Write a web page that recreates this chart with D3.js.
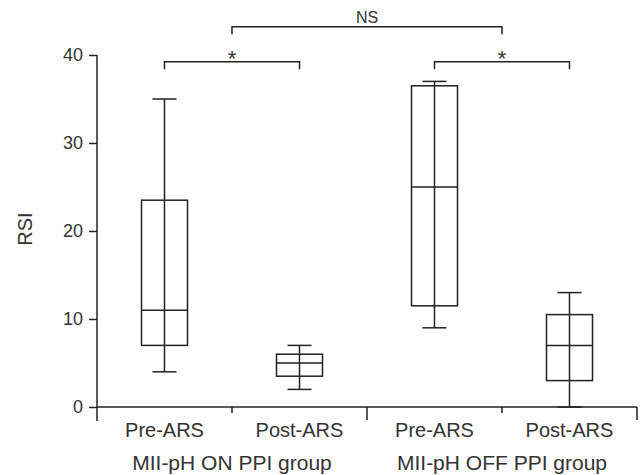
<!DOCTYPE html>
<html>
<head>
<meta charset="utf-8">
<script src="https://cdn.jsdelivr.net/npm/d3@7"></script>
<style>
  body { margin: 0; background: #fff; }
  text { font-family: "Liberation Sans", Arial, sans-serif; fill: #333; }
</style>
</head>
<body>
<div id="chart"></div>
<script>
// data
var categories = ["Pre-ARS", "Post-ARS", "Pre-ARS", "Post-ARS"];
var groups = ["MII-pH ON PPI group", "MII-pH OFF PPI group"];
var whiskerLow = [4, 2, 9, 0];
var q1 = [7, 3.5, 11.5, 3];
var median = [11, 5, 25, 7];
var q3 = [23.5, 6, 36.5, 10.5];
var whiskerHigh = [35, 7, 37, 13];
var yTicks = [0, 10, 20, 30, 40];
// comparisons: category index from/to, label
var starPairs = [[0, 1, "*"], [2, 3, "*"]];
var nsPair = [0, 2, "NS"]; // between the two groups

var svgWidth = 644;
var svgHeight = 475;
var margin = { top: 55, right: 7, bottom: 68, left: 97 };
var width = svgWidth - margin.left - margin.right;
var height = svgHeight - margin.top - margin.bottom;
var ink = "#222";

var svg = d3.select("#chart")
  .append("svg")
  .attr("width", svgWidth)
  .attr("height", svgHeight);

var chartGroup = svg.append("g")
  .attr("transform", `translate(${margin.left}, ${margin.top})`);

var xScale = d3.scaleBand()
  .domain(d3.range(categories.length))
  .range([0, width])
  .padding(0);

var yScale = d3.scaleLinear()
  .domain([0, 40])
  .range([height, 0]);

var cx = i => xScale(i) + xScale.bandwidth() / 2;

// y axis
var leftAxis = d3.axisLeft(yScale).tickValues(yTicks).tickSize(8).tickSizeOuter(0).tickPadding(6);
var yAxisG = chartGroup.append("g").call(leftAxis);
yAxisG.select(".domain").remove();
yAxisG.selectAll(".tick line").attr("stroke", ink).attr("stroke-width", 1.5);
yAxisG.selectAll(".tick text")
  .style("font-size", "18px")
  .style("font-family", "'Liberation Sans', Arial, sans-serif")
  .attr("fill", "#333");

chartGroup.append("line")
  .attr("x1", 0).attr("x2", 0)
  .attr("y1", yScale(40)).attr("y2", height + 14)
  .attr("stroke", ink).attr("stroke-width", 1.5);

// x axis line and ticks (long at group edges, short inside)
chartGroup.append("line")
  .attr("x1", 0).attr("x2", width)
  .attr("y1", height).attr("y2", height)
  .attr("stroke", ink).attr("stroke-width", 1.5);

d3.range(1, categories.length + 1).forEach(function(i) {
  var xx = i < categories.length ? xScale(i) : width;
  chartGroup.append("line")
    .attr("x1", xx).attr("x2", xx)
    .attr("y1", height).attr("y2", height + (i % 2 === 0 ? 13 : 6))
    .attr("stroke", ink).attr("stroke-width", 1.5);
});

// category labels
chartGroup.selectAll(".cat")
  .data(categories)
  .enter()
  .append("text")
  .attr("class", "cat")
  .attr("x", (d, i) => cx(i))
  .attr("y", height + 30)
  .attr("text-anchor", "middle")
  .style("font-size", "20px")
  .text(d => d);

// group labels
chartGroup.selectAll(".grp")
  .data(groups)
  .enter()
  .append("text")
  .attr("class", "grp")
  .attr("x", (d, i) => xScale(i * 2 + 1))
  .attr("y", height + 63)
  .attr("text-anchor", "middle")
  .style("font-size", "21px")
  .text(d => d);

// y label
chartGroup.append("text")
  .attr("transform", `translate(${32 - margin.left}, ${height / 2 - 2}) rotate(-90)`)
  .attr("text-anchor", "middle")
  .style("font-size", "20px")
  .text("RSI");

// boxes
var boxW = 46;
var capW = 24;
var boxes = chartGroup.selectAll(".box")
  .data(categories)
  .enter()
  .append("g")
  .attr("class", "box");

boxes.append("line")
  .attr("x1", (d, i) => cx(i)).attr("x2", (d, i) => cx(i))
  .attr("y1", (d, i) => yScale(whiskerLow[i]))
  .attr("y2", (d, i) => yScale(whiskerHigh[i]))
  .attr("stroke", ink).attr("stroke-width", 1.5);

boxes.append("rect")
  .attr("x", (d, i) => cx(i) - boxW / 2)
  .attr("y", (d, i) => yScale(q3[i]))
  .attr("width", boxW)
  .attr("height", (d, i) => yScale(q1[i]) - yScale(q3[i]))
  .attr("fill", "none")
  .attr("stroke", ink).attr("stroke-width", 1.5);

boxes.append("line")
  .attr("x1", (d, i) => cx(i) - boxW / 2).attr("x2", (d, i) => cx(i) + boxW / 2)
  .attr("y1", (d, i) => yScale(median[i])).attr("y2", (d, i) => yScale(median[i]))
  .attr("stroke", ink).attr("stroke-width", 1.5);

[whiskerLow, whiskerHigh].forEach(function(arr) {
  boxes.append("line")
    .attr("x1", (d, i) => cx(i) - capW / 2).attr("x2", (d, i) => cx(i) + capW / 2)
    .attr("y1", (d, i) => yScale(arr[i])).attr("y2", (d, i) => yScale(arr[i]))
    .attr("stroke", ink).attr("stroke-width", 1.5);
});

// significance brackets
function bracket(x1, x2, yTop, label, fs, gap) {
  chartGroup.append("path")
    .attr("d", `M${x1},${yTop + 7.5}V${yTop}H${x2}V${yTop + 7.5}`)
    .attr("fill", "none")
    .attr("stroke", ink).attr("stroke-width", 1.5);
  chartGroup.append("text")
    .attr("x", (x1 + x2) / 2)
    .attr("y", yTop - gap)
    .attr("text-anchor", "middle")
    .style("font-size", fs)
    .text(label);
}

starPairs.forEach(function(p) {
  bracket(cx(p[0]), cx(p[1]), 61.7 - margin.top, p[2], "22px", -4);
});
bracket(xScale(nsPair[0] + 1), xScale(nsPair[1] + 1), 26.7 - margin.top, nsPair[2], "16px", 4);
</script>
</body>
</html>
